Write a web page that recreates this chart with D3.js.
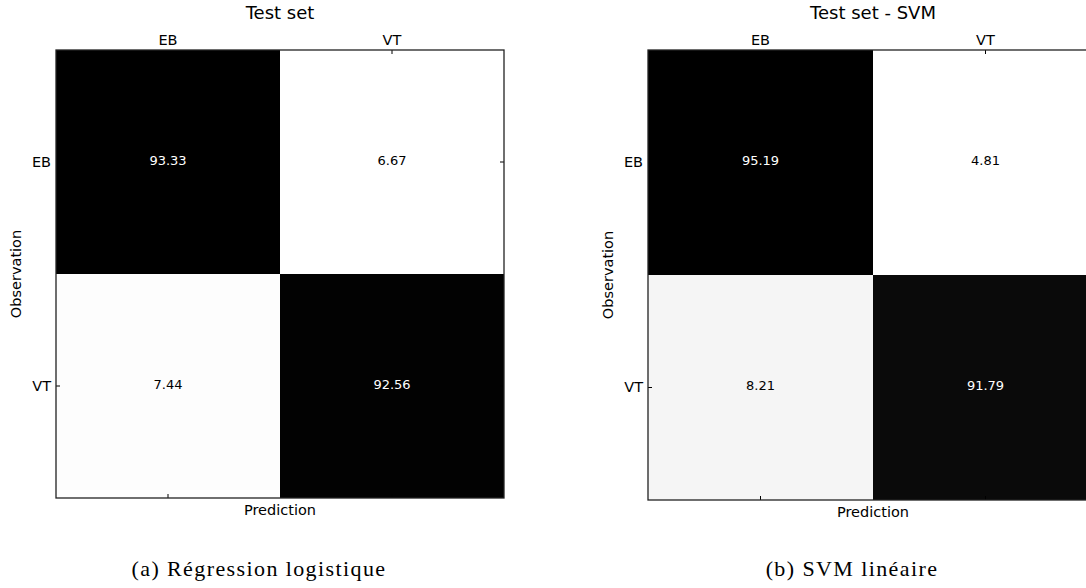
<!DOCTYPE html>
<html>
<head>
<meta charset="utf-8">
<script src="https://cdn.jsdelivr.net/npm/d3@7"></script>
<style>
  html, body { margin: 0; padding: 0; background: #fff; }
  svg { display: block; }
</style>
</head>
<body>
<script>
// ---- data ----
const categories = ["EB", "VT"];
const valuesLogistic = [[93.33, 6.67], [7.44, 92.56]];
const valuesSVM = [[95.19, 4.81], [8.21, 91.79]];
const titles = ["Test set", "Test set - SVM"];
const captions = ["(a) Régression logistique", "(b) SVM linéaire"];
const xLabel = "Prediction";
const yLabel = "Observation";

const W = 1086, H = 588;
const svg = d3.select("body").append("svg").attr("width", W).attr("height", H);

const panels = [
  { data: valuesLogistic, left: 56, top: 50, size: 448, title: titles[0], caption: captions[0], captionX: 259 },
  { data: valuesSVM, left: 648, top: 50, size: 450, title: titles[1], caption: captions[1], captionX: 852 }
];

const sans = "DejaVu Sans, sans-serif";

panels.forEach(p => {
  const g = svg.append("g").attr("transform", `translate(${p.left},${p.top})`);
  const x = d3.scaleBand().domain(categories).range([0, p.size]).padding(0);
  const y = d3.scaleBand().domain(categories).range([0, p.size]).padding(0);
  const flat = p.data.flat();
  const color = d3.scaleLinear().domain([d3.min(flat), d3.max(flat)])
    .range(["#ffffff", "#000000"]).interpolate(d3.interpolateRgb);

  const cells = [];
  p.data.forEach((row, i) => row.forEach((v, j) => cells.push({ r: categories[i], c: categories[j], v })));

  g.selectAll("rect.cell").data(cells).join("rect")
    .attr("class", "cell")
    .attr("x", d => x(d.c)).attr("y", d => y(d.r))
    .attr("width", x.bandwidth()).attr("height", y.bandwidth())
    .attr("fill", d => color(d.v));

  g.selectAll("text.val").data(cells).join("text")
    .attr("class", "val")
    .attr("x", d => x(d.c) + x.bandwidth() / 2)
    .attr("y", d => y(d.r) + y.bandwidth() / 2)
    .attr("text-anchor", "middle")
    .attr("dy", "0.22em")
    .attr("font-family", sans).attr("font-size", 13)
    .attr("fill", d => d.v > 50 ? "#ffffff" : "#000000")
    .text(d => d.v.toFixed(2));

  // axes with inward ticks
  const styleAxis = sel => {
    sel.select(".domain").remove();
    sel.selectAll(".tick line").attr("stroke", "#000");
    sel.selectAll(".tick text").attr("font-family", sans).attr("font-size", 14.5).attr("fill", "#000");
  };
  g.append("g").call(d3.axisTop(x).tickSize(-4).tickPadding(5)).call(styleAxis);
  g.append("g").attr("transform", `translate(0,${p.size})`)
    .call(d3.axisBottom(x).tickSize(-4).tickFormat("")).call(styleAxis);
  g.append("g").call(d3.axisLeft(y).tickSize(-4).tickPadding(5)).call(styleAxis);
  g.append("g").attr("transform", `translate(${p.size},0)`)
    .call(d3.axisRight(y).tickSize(-4).tickFormat("")).call(styleAxis);

  // frame
  g.append("rect").attr("x", 0).attr("y", 0).attr("width", p.size).attr("height", p.size)
    .attr("fill", "none").attr("stroke", "#222").attr("stroke-width", 1.3);

  // title
  g.append("text").attr("x", p.size / 2).attr("y", -31)
    .attr("text-anchor", "middle").attr("font-family", sans).attr("font-size", 18)
    .attr("fill", "#000").text(p.title);

  // x label
  g.append("text").attr("x", p.size / 2).attr("y", p.size + 17)
    .attr("text-anchor", "middle").attr("font-family", sans).attr("font-size", 14.5)
    .attr("fill", "#000").text(xLabel);

  // y label
  g.append("text").attr("transform", `translate(-35,${p.size / 2}) rotate(-90)`)
    .attr("text-anchor", "middle").attr("font-family", sans).attr("font-size", 14.5)
    .attr("fill", "#000").text(yLabel);

  // caption
  svg.append("text").attr("x", p.captionX).attr("y", 576)
    .attr("text-anchor", "middle").attr("font-family", "Liberation Serif, serif").attr("font-size", 22)
    .attr("letter-spacing", 1.4)
    .attr("fill", "#000").text(p.caption);
});
</script>
</body>
</html>
